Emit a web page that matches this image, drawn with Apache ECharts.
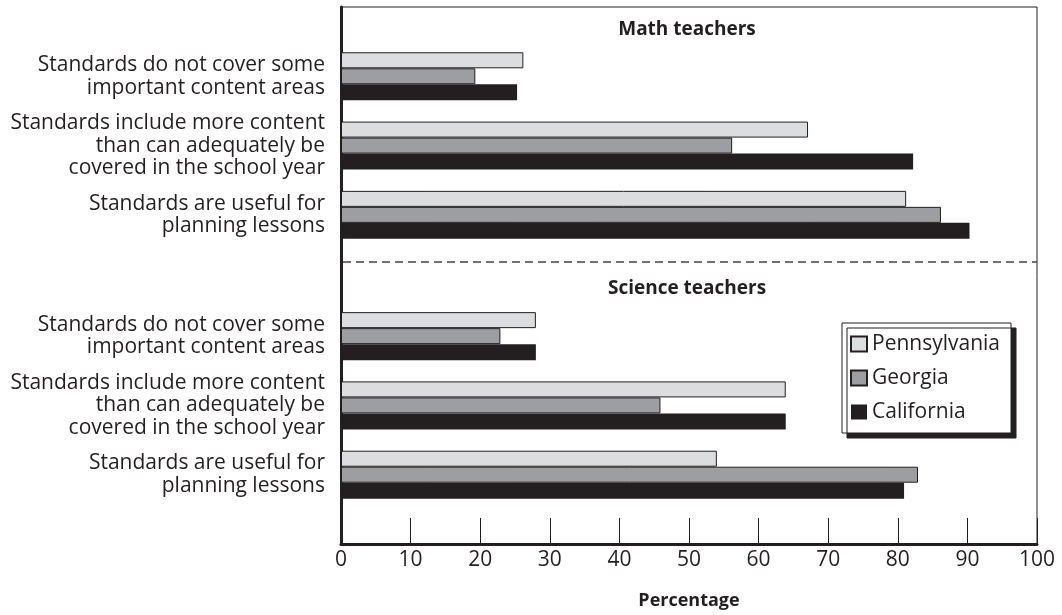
<!DOCTYPE html>
<html>
<head>
<meta charset="utf-8">
<script src="https://cdn.jsdelivr.net/npm/echarts@6/dist/echarts.min.js"></script>
<style>
  html, body { margin: 0; padding: 0; background: #fff; }
  #chart { width: 1062px; height: 615px; }
</style>
</head>
<body>
<div id="chart"></div>
<script>
// questions, same three for both panels
const questions = [
    "Standards do not cover some\nimportant content areas",
    "Standards include more content\nthan can adequately be\ncovered in the school year",
    "Standards are useful for\nplanning lessons",
];
const states = ["Pennsylvania", "Georgia", "California"];

// percentages
const mathPA = [26.2, 67.1, 81.2];
const mathGA = [19.3, 56.2, 86.2];
const mathCA = [25.3, 82.2, 90.3];
const sciPA = [28.0, 63.9, 54.0];
const sciGA = [22.9, 45.9, 82.9];
const sciCA = [28.0, 63.9, 80.9];

const xTicks = [0, 10, 20, 30, 40, 50, 60, 70, 80, 90, 100];

// row slots on the category axis (lots of empty rows so the two panels sit apart)
const rowCount = 32;
const mathRows = [4, 8, 12];
const sciRows = [19, 23, 27];

const categories = [];
for (let i = 0; i < rowCount; i++) categories.push("");
mathRows.forEach((r, i) => (categories[r] = questions[i]));
sciRows.forEach((r, i) => (categories[r] = questions[i]));

function rowData(math, sci) {
    const out = [];
    for (let i = 0; i < rowCount; i++) out.push("-");
    mathRows.forEach((r, i) => (out[r] = math[i]));
    sciRows.forEach((r, i) => (out[r] = sci[i]));
    return out;
}

const ink = "#231f20";
const font = "'Open Sans', 'Noto Sans', sans-serif";
const colors = ["#dcdddf", "#9d9ea1", ink];

const chart = echarts.init(document.getElementById("chart"), null, { renderer: "canvas" });

const plotL = 341, plotT = 7, plotR = 1037, plotB = 544;

const option = {
    animation: false,
    textStyle: { fontFamily: font },
    grid: {
        left: plotL,
        top: plotT,
        right: 1062 - plotR,
        bottom: 615 - plotB,
        outerBoundsMode: "none",
        containLabel: false,
        show: true,
        borderColor: ink,
        borderWidth: 1,
    },
    legend: {
        orient: "vertical",
        left: 842,
        top: 323,
        padding: [10, 11, 10, 8],
        itemWidth: 16,
        itemHeight: 15,
        itemGap: 12,
        icon: "rect",
        backgroundColor: "#fff",
        borderColor: ink,
        borderWidth: 1,
        borderRadius: 0,
        shadowColor: ink,
        shadowBlur: 0,
        shadowOffsetX: 5,
        shadowOffsetY: 5,
        textStyle: { fontSize: 21, color: ink, fontFamily: font, lineHeight: 22 },
        data: states,
    },
    xAxis: {
        type: "value",
        min: 0,
        max: 100,
        interval: 10,
        name: "Percentage",
        nameLocation: "middle",
        nameGap: 48,
        nameTextStyle: { fontSize: 18, fontWeight: "bold", color: ink, fontFamily: font },
        axisLine: { show: true, lineStyle: { color: ink, width: 3 } },
        axisTick: { show: true, inside: true, length: 26, lineStyle: { color: ink, width: 1 } },
        axisLabel: {
            fontSize: 21,
            color: ink,
            margin: 6,
            fontFamily: font,
            formatter: (v) => (xTicks.includes(v) ? String(v) : ""),
        },
        splitLine: { show: false },
    },
    yAxis: {
        type: "category",
        inverse: true,
        boundaryGap: false,
        data: categories,
        axisLine: { show: true, lineStyle: { color: ink, width: 3 } },
        axisTick: { show: false },
        axisLabel: {
            interval: 0,
            fontSize: 21,
            lineHeight: 22.5,
            color: ink,
            align: "right",
            margin: 16,
            fontFamily: font,
        },
        splitLine: { show: false },
    },
    graphic: [
        {
            type: "text",
            x: 687,
            y: 30,
            style: { text: "Math teachers", font: "bold 19px " + font, fill: ink, textAlign: "center", textVerticalAlign: "middle" },
        },
        {
            type: "text",
            x: 687,
            y: 289,
            style: { text: "Science teachers", font: "bold 19px " + font, fill: ink, textAlign: "center", textVerticalAlign: "middle" },
        },
        {
            type: "line",
            shape: { x1: plotL + 2, y1: 262, x2: plotR, y2: 262 },
            style: { stroke: "#444", lineWidth: 1.5, lineDash: [8, 5] },
        },
    ],
    series: [
        { name: states[0], data: rowData(mathPA, sciPA) },
        { name: states[1], data: rowData(mathGA, sciGA) },
        { name: states[2], data: rowData(mathCA, sciCA) },
    ].map((s, i) => ({
        type: "bar",
        name: s.name,
        data: s.data,
        barWidth: 16,
        barGap: "0%",
        itemStyle: { color: colors[i], borderColor: ink, borderWidth: i < 2 ? 1 : 0 },
    })),
};

chart.setOption(option);
</script>
</body>
</html>
